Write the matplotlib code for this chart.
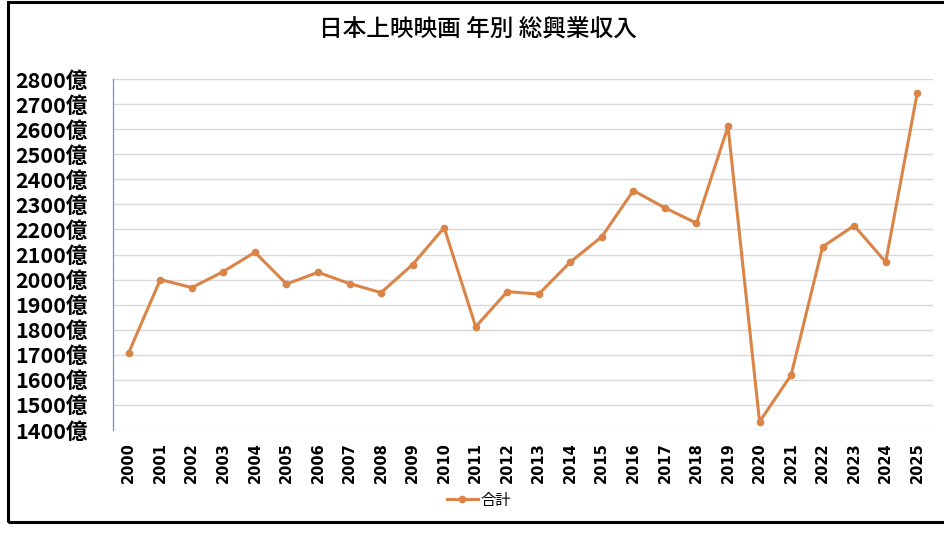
import matplotlib
matplotlib.use('Agg')
import matplotlib.pyplot as plt
from matplotlib.patches import Rectangle

plt.rcParams['font.family'] = ['Noto Sans CJK JP', 'DejaVu Sans']

# data (億円)
years = [str(y) for y in range(2000, 2026)]
totals = [1709, 2000, 1968, 2032, 2109, 1982, 2029, 1984, 1948, 2060,
          2207, 1812, 1952, 1942, 2070, 2171, 2355, 2286, 2225, 2611,
          1433, 1619, 2131, 2215, 2070, 2744]
yticks = list(range(1400, 2900, 100))
ytick_labels = [f'{v}億' for v in yticks]

title = '日本上映映画 年別 総興業収入'
series_name = '合計'
line_color = '#DB8447'

fig = plt.figure(figsize=(9.44, 5.43), dpi=100)
ax = fig.add_axes([113/944, 1 - 430/543, (933-113)/944, (430-79)/543])

x = list(range(len(years)))
ax.plot(x, totals, color=line_color, lw=2.2, marker='o', markersize=4.5,
        label=series_name, zorder=3)

ax.set_xlim(-0.5, len(years) - 0.5)
ax.set_ylim(1400, 2800)
ax.set_xticks(x)
ax.set_xticklabels(years, rotation=90, fontsize=10.5, fontweight='bold',
                   family='DejaVu Sans')
ax.set_yticks(yticks)
ax.set_yticklabels(ytick_labels, fontsize=15.5, fontweight='bold')
ax.tick_params(axis='x', length=0, pad=9)
ax.tick_params(axis='y', length=0, pad=18)

ax.grid(axis='y', color='#D9D9D9', lw=1.0)
ax.set_axisbelow(True)
for s in ['top', 'right', 'bottom']:
    ax.spines[s].set_visible(False)
ax.spines['left'].set_color('#6A96CC')
ax.spines['left'].set_linewidth(0.9)

fig.text(478/944, 1 - 30/543, title, ha='center', va='center', fontsize=17,
         fontweight='medium')

fig.legend(loc='center', bbox_to_anchor=(479/944, 1 - 500/543), frameon=False,
           fontsize=11, handlelength=2.0, handletextpad=0.2)

# chart border
fig.patches.append(Rectangle((7.5/944, 1 - 521.5/543), 950/944, 520/543,
                             transform=fig.transFigure, fill=False,
                             edgecolor='black', lw=2.2))

plt.savefig('out.png', dpi=100)
plt.close()
